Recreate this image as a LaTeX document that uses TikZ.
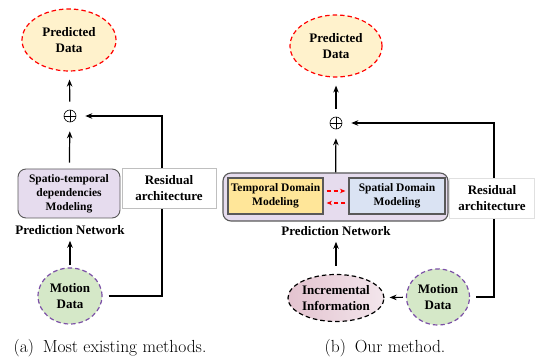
\documentclass[tikz,border=0pt]{standalone}
\usepackage{fontspec}
\newfontfamily\labfont{Liberation Serif}
\usetikzlibrary{arrows.meta,shapes.geometric}
\definecolor{predfill}{HTML}{FFF2CC}
\definecolor{motfill}{HTML}{D5E8C8}
\definecolor{motdraw}{HTML}{7B4FA6}
\definecolor{lavfill}{HTML}{E6DCEE}
\definecolor{tempfill}{HTML}{FFE699}
\definecolor{spafill}{HTML}{DAE3F3}
\definecolor{boxdraw}{HTML}{595959}
\definecolor{incl}{HTML}{E3C3CF}
\definecolor{incr}{HTML}{F3E6EC}
\tikzset{
  lab/.style={font=\labfont\bfseries\fontsize{13}{15.5}\selectfont, align=center, inner sep=0pt},
  smalllab/.style={font=\labfont\bfseries\fontsize{11.5}{14}\selectfont, align=center, inner sep=0pt},
  predell/.style={lab, ellipse, draw=red, dash pattern=on 4.5pt off 3pt, line width=1.2pt, fill=predfill},
  motell/.style={lab, ellipse, draw=motdraw, dash pattern=on 4.5pt off 3pt, line width=1.2pt, fill=motfill},
  arr/.style={-{Stealth[length=7pt,width=5.5pt]}, line width=1.2pt, black},
  oplusnode/.style={circle, draw, line width=0.6pt, minimum size=12pt, inner sep=0pt,
    path picture={\draw[line width=0.6pt] (path picture bounding box.north) -- (path picture bounding box.south)
      (path picture bounding box.west) -- (path picture bounding box.east);}},
  resbox/.style={lab, rectangle, fill=white, minimum height=40pt},
  redarr/.style={-{Stealth[length=5.5pt,width=4.5pt]}, red, line width=1.1pt, dash pattern=on 4pt off 3pt},
  capt/.style={font=\fontsize{17.5}{20}\selectfont, inner sep=0pt}
}
\begin{document}
\begin{tikzpicture}[x=1pt,y=-1pt]
\useasboundingbox (0,0) rectangle (536,358);
% ---------- (a) ----------
\node[predell, minimum width=94pt, minimum height=62pt] (pa) at (69,40) {Predicted\\Data};
\node[oplusnode] (oa) at (70,116) {};
\node[smalllab, rectangle, rounded corners=8pt, draw=boxdraw, line width=0.9pt, fill=lavfill,
      minimum width=102pt, minimum height=49pt] (sa) at (69,193.5) {Spatio-temporal\\dependencies\\Modeling};
\node[lab] (pna) at (70,230) {Prediction Network};
\node[motell, minimum width=64pt, minimum height=56pt] (ma) at (70,296) {Motion\\Data};
\draw[arr, shorten <=8pt, shorten >=8pt] (oa) -- (pa);
\draw[arr, shorten <=6pt, shorten >=9pt] (sa) -- (oa);
\draw[arr, shorten <=2pt, shorten >=6pt] (ma) -- (pna);
\draw[arr, shorten <=6pt, shorten >=9pt] (ma) -- (162,296) |- (oa);
\node[resbox, draw=black!25, line width=0.6pt, minimum width=94pt] (ra) at (169,188) {Residual\\architecture};
\node[capt] (capa) at (110,348) {(a)\enspace Most existing methods.};
% ---------- (b) ----------
\node[predell, minimum width=92pt, minimum height=62pt] (pb) at (336,46) {Predicted\\Data};
\node[oplusnode] (ob) at (336,123) {};
\node[rectangle, rounded corners=8pt, draw=boxdraw, line width=1.1pt, fill=lavfill,
      minimum width=225pt, minimum height=48pt] (nb) at (335.5,197) {};
\node[smalllab, rectangle, draw=boxdraw, line width=1.1pt, fill=tempfill,
      minimum width=95pt, minimum height=36pt] (tb) at (275.5,196) {Temporal Domain\\Modeling};
\node[smalllab, rectangle, draw=boxdraw, line width=1.1pt, fill=spafill,
      minimum width=96pt, minimum height=36pt] (sb) at (397,196) {Spatial Domain\\Modeling};
\draw[redarr, shorten <=3pt, shorten >=3pt] ([yshift=5pt]tb.east) -- ([yshift=5pt]sb.west);
\draw[redarr, shorten <=3pt, shorten >=3pt] ([yshift=-7pt]sb.west) -- ([yshift=-7pt]tb.east);
\node[lab] (pnb) at (336,231) {Prediction Network};
\node[lab, ellipse, draw=black, dash pattern=on 4.5pt off 3pt, line width=1.2pt,
      left color=incl, right color=incr, minimum width=94pt, minimum height=47pt] (ib) at (336,298) {Incremental\\Information};
\node[motell, minimum width=63pt, minimum height=56pt] (mb) at (438,297) {Motion\\Data};
\draw[arr, shorten <=8pt, shorten >=8pt] (ob) -- (pb);
\draw[arr, shorten >=9pt] (nb) -- (ob);
\draw[arr, shorten <=8pt, shorten >=6pt] (ib) -- (pnb);
\draw[arr, shorten <=3pt, shorten >=5pt] (mb) -- (ib);
\draw[arr, shorten <=6pt, shorten >=9pt] (mb) -- (494,297) |- (ob);
\node[resbox, draw=black!12, line width=0.6pt, minimum width=85pt] (rb) at (492,198) {Residual\\architecture};
\node[capt] (capb) at (385,348) {(b)\enspace Our method.};
\end{tikzpicture}
\end{document}
